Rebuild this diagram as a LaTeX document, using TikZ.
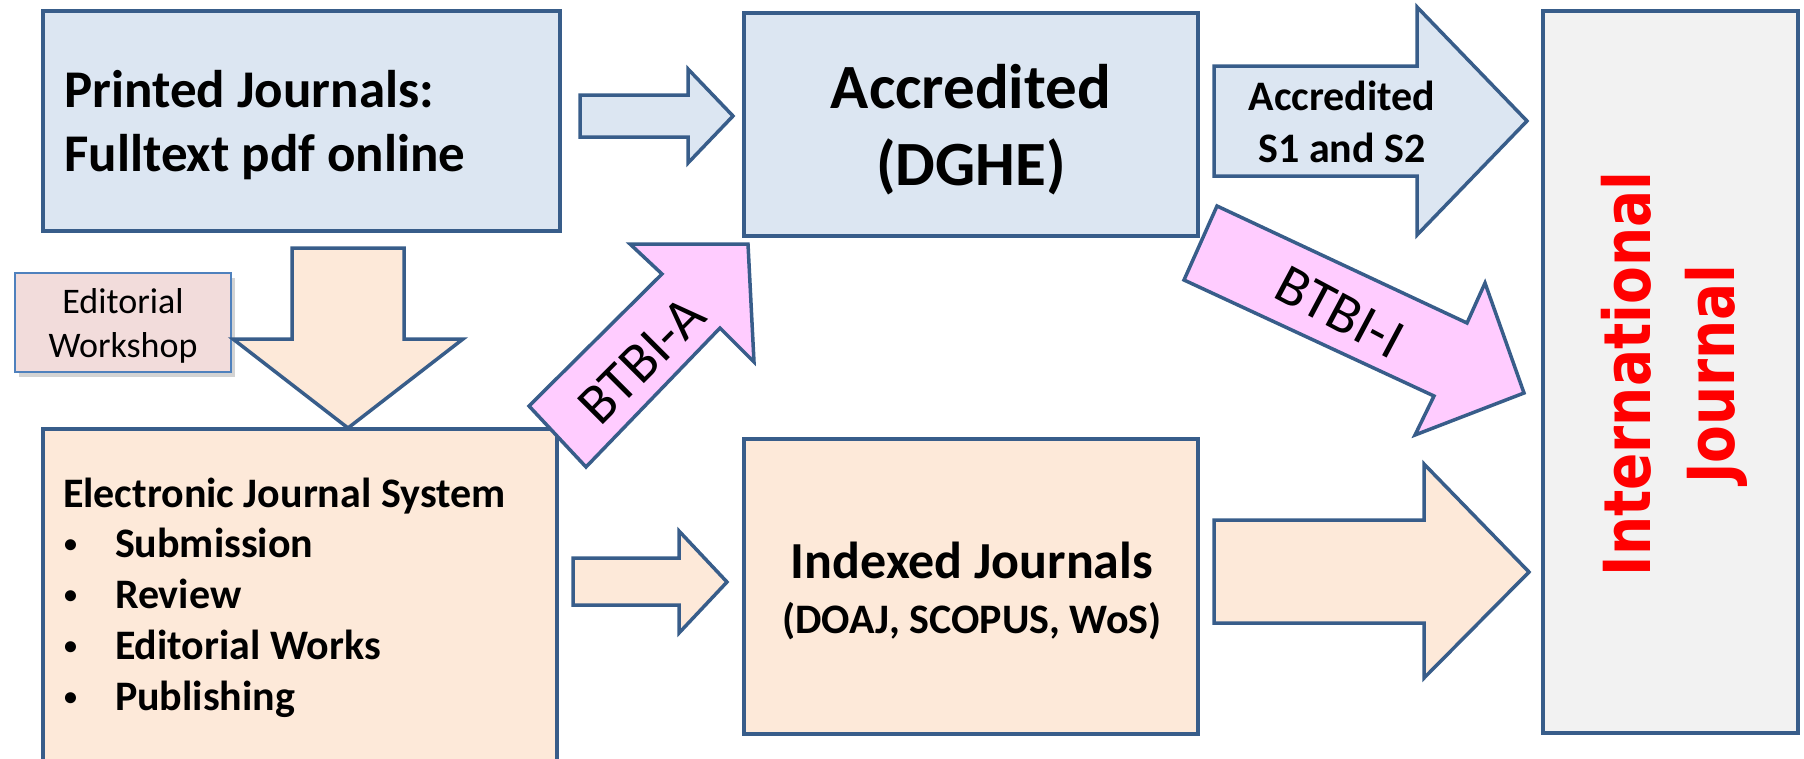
\documentclass[tikz,border=0pt]{standalone}
\usepackage{fontspec}
\setmainfont{Carlito}
\newfontfamily\redfont{DejaVu Sans}
\usetikzlibrary{shadows}
\definecolor{bord}{HTML}{385D8A}
\definecolor{bluefill}{HTML}{DCE6F2}
\definecolor{peach}{HTML}{FDE9D9}
\definecolor{pinkfill}{HTML}{FFCCFF}
\definecolor{grayfill}{HTML}{F2F2F2}
\definecolor{edfill}{HTML}{F2DCDB}
\definecolor{edbord}{HTML}{4F81BD}
\definecolor{intred}{HTML}{FF0000}
\begin{document}
\begin{tikzpicture}[x=1pt,y=-1pt,
  box/.style={draw=bord,line width=4.5pt,inner sep=0pt,outer sep=0pt},
  blockarrow/.style={draw=bord,line width=3.5pt,line join=miter},
  txt/.style={inner sep=0pt,outer sep=0pt},
  bigtxt/.style={txt,font=\bfseries\fontsize{53}{62}\selectfont},
  acctxt/.style={txt,font=\bfseries\fontsize{63}{70}\selectfont},
  midtxt/.style={txt,font=\bfseries\fontsize{42}{50}\selectfont},
  listtxt/.style={txt,font=\bfseries\fontsize{42}{50}\selectfont},
  bullettxt/.style={txt,font=\bfseries\fontsize{26}{30}\selectfont},
  btbitxt/.style={txt,font=\fontsize{57}{60}\selectfont},
  redtxt/.style={txt,text=intred,rotate=90,font=\redfont\bfseries\fontsize{55}{60}\selectfont},
]
\useasboundingbox (0,0) rectangle (1804,758);

% boxes
\node[box,fill=bluefill,minimum width=517pt,minimum height=220pt] (printed) at (301.5,121) {};
\node[box,fill=bluefill,minimum width=454pt,minimum height=223pt] (accr) at (971,124.5) {};
\node[box,fill=peach,minimum width=514pt,minimum height=361pt] (ejs) at (300,609.5) {};
\node[box,fill=peach,minimum width=454pt,minimum height=295pt] (indexed) at (971,586.5) {};
\node[box,fill=grayfill,minimum width=255pt,minimum height=722pt] (intl) at (1670.5,372) {};
\node[draw=edbord,line width=1.8pt,fill=edfill,inner sep=0pt,minimum width=216pt,minimum height=99pt,
  drop shadow={opacity=0.35,shadow xshift=4pt,shadow yshift=-5pt}] (edws) at (122.75,322.5) {};

% block arrows
\draw[blockarrow,fill=bluefill] (580,95) -- (688,95) -- (688,69) -- (733,116) -- (688,163) -- (688,137) -- (580,137) -- cycle;
\draw[blockarrow,fill=bluefill] (1214,66) -- (1417,66) -- (1417,7) -- (1527,121) -- (1417,235) -- (1417,176) -- (1214,176) -- cycle;
\draw[blockarrow,fill=peach] (292,248) -- (404,248) -- (404,339) -- (463,339) -- (348,428) -- (233,339) -- (292,339) -- cycle;
\draw[blockarrow,fill=peach] (573,558) -- (679,558) -- (679,531) -- (727,582) -- (679,633) -- (679,605) -- (573,605) -- cycle;
\draw[blockarrow,fill=peach] (1214,520) -- (1424,520) -- (1424,464) -- (1529,572) -- (1424,678) -- (1424,623) -- (1214,623) -- cycle;
\draw[blockarrow,fill=pinkfill] (529,406) -- (662,274) -- (630,244) -- (748,244) -- (754,362) -- (720,328) -- (586,467) -- cycle;
\draw[blockarrow,fill=pinkfill] (1217,206) -- (1467,323) -- (1485,283) -- (1524,393) -- (1415,435) -- (1434,396) -- (1184,280) -- cycle;

% texts
\node[bigtxt,anchor=base west] (p1) at (64.5,107) {Printed Journals:};
\node[bigtxt,anchor=base west] (p2) at (64.5,171) {Fulltext pdf online};
\node[acctxt,anchor=base] (a1) at (971,108) {Accredited};
\node[acctxt,anchor=base] (a2) at (971,185) {(DGHE)};
\node[midtxt,anchor=base] (s1) at (1342,110) {Accredited};
\node[midtxt,anchor=base] (s2) at (1342,162) {S1 and S2};
\node[txt,anchor=base,font=\fontsize{36}{44}\selectfont] (e1) at (123,313) {Editorial};
\node[txt,anchor=base,font=\fontsize{36}{44}\selectfont] (e2) at (123,357) {Workshop};
\node[listtxt,anchor=base west] (l0) at (63,507) {Electronic Journal System};
\node[bullettxt,anchor=base west] (b1) at (64,552.5) {•};
\node[bullettxt,anchor=base west] (b2) at (64,603.5) {•};
\node[bullettxt,anchor=base west] (b3) at (64,654.5) {•};
\node[bullettxt,anchor=base west] (b4) at (64,705.5) {•};
\node[listtxt,anchor=base west] (l1) at (115,557) {Submission};
\node[listtxt,anchor=base west] (l2) at (115,608) {Review};
\node[listtxt,anchor=base west] (l3) at (115,659) {Editorial Works};
\node[listtxt,anchor=base west] (l4) at (115,710) {Publishing};
\node[txt,anchor=base,font=\bfseries\fontsize{52}{58}\selectfont] (i1) at (972,578) {Indexed Journals};
\node[txt,anchor=base,font=\bfseries\fontsize{42}{48}\selectfont] (i2) at (972,633) {(DOAJ, SCOPUS, WoS)};
\node[btbitxt,rotate=45] (ba) at (642,360) {BTBI-A};
\node[btbitxt,rotate=-28] (bi) at (1340,312) {BTBI-I};
\node[redtxt] (r1) at (1626,374) {\scalebox{1}[1.18]{International}};
\node[redtxt] (r2) at (1716,374) {\scalebox{1}[1.18]{Journal}};
\end{tikzpicture}
\end{document}
